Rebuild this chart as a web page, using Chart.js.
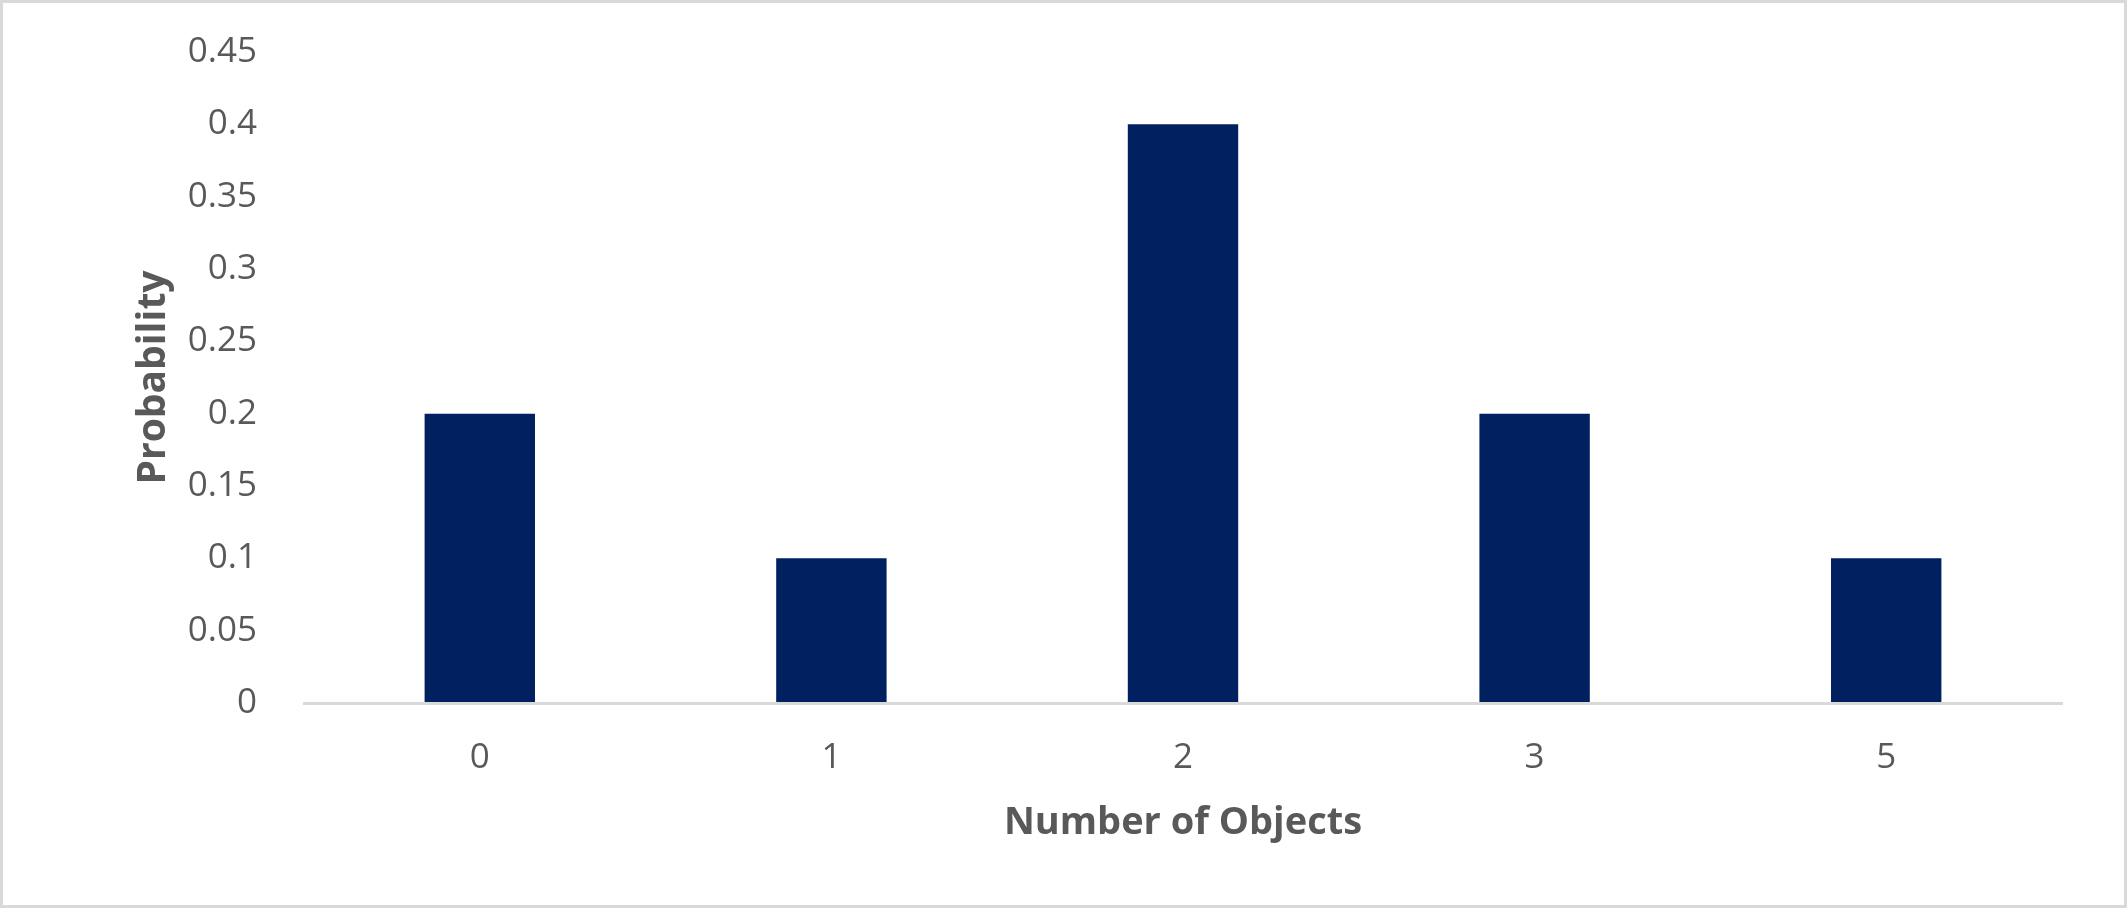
<!DOCTYPE html>
<html>
<head>
<meta charset="utf-8">
<title>Probability</title>
<script src="https://cdn.jsdelivr.net/npm/chart.js@4.4.1/dist/chart.umd.min.js"></script>
<style>
    html, body { margin: 0; padding: 0; background: #ffffff; }
    #cornice {
        width: 2127px;
        height: 908px;
        box-sizing: border-box;
        border: 3px solid #d9d9d9;
        background: #ffffff;
    }
    canvas { display: block; }
</style>
</head>
<body>
<div id="cornice">
    <canvas id="grafico" width="2121" height="902"></canvas>
</div>
<script>
// Dati del grafico
const categorie = ['0', '1', '2', '3', '5'];
const probabilita = [0.2, 0.1, 0.4, 0.2, 0.1];
const tickY = [0, 0.05, 0.1, 0.15, 0.2, 0.25, 0.3, 0.35, 0.4, 0.45];

const coloreTesto = '#595959';
const coloreBarre = '#002060';
const coloreAsse = '#d9d9d9';

Chart.defaults.font.family = "'Open Sans', sans-serif";
Chart.defaults.color = coloreTesto;

const ctx = document.getElementById('grafico').getContext('2d');

const grafico = new Chart(ctx, {
    type: 'bar',
    data: {
        labels: categorie,
        datasets: [{
            label: 'Probability',
            data: probabilita,
            backgroundColor: coloreBarre,
            borderWidth: 0,
            barPercentage: 1,
            categoryPercentage: 0.314
        }]
    },
    options: {
        responsive: false,
        animation: false,
        devicePixelRatio: 1,
        layout: {
            padding: { left: 0, right: 62, top: 49, bottom: 0 }
        },
        plugins: {
            legend: { display: false },
            tooltip: { enabled: false }
        },
        scales: {
            x: {
                grid: { display: false },
                border: { display: true, color: coloreAsse, width: 3, z: 1 },
                ticks: {
                    padding: 26,
                    font: { size: 35 },
                    color: coloreTesto
                },
                title: {
                    display: true,
                    text: 'Number of Objects',
                    color: coloreTesto,
                    font: { size: 38, weight: 'bold' },
                    padding: { top: 0, bottom: 59 }
                },
                afterFit: function(scala) { scala.height = 202; }
            },
            y: {
                min: 0,
                max: 0.45,
                grid: { display: false },
                border: { display: false },
                afterBuildTicks: function(scala) {
                    scala.ticks = tickY.map(v => ({ value: v }));
                },
                ticks: {
                    padding: 39,
                    font: { size: 35 },
                    color: coloreTesto,
                    callback: function(valore) { return String(valore); }
                },
                title: {
                    display: true,
                    text: 'Probability',
                    color: coloreTesto,
                    font: { size: 39, weight: 'bold' },
                    padding: { top: 127, bottom: 0 }
                },
                afterFit: function(scala) {
                    // larghezza fissa e nessun margine extra in alto
                    scala.width = 301;
                    scala.paddingTop = 0;
                }
            }
        }
    }
});
</script>
</body>
</html>
